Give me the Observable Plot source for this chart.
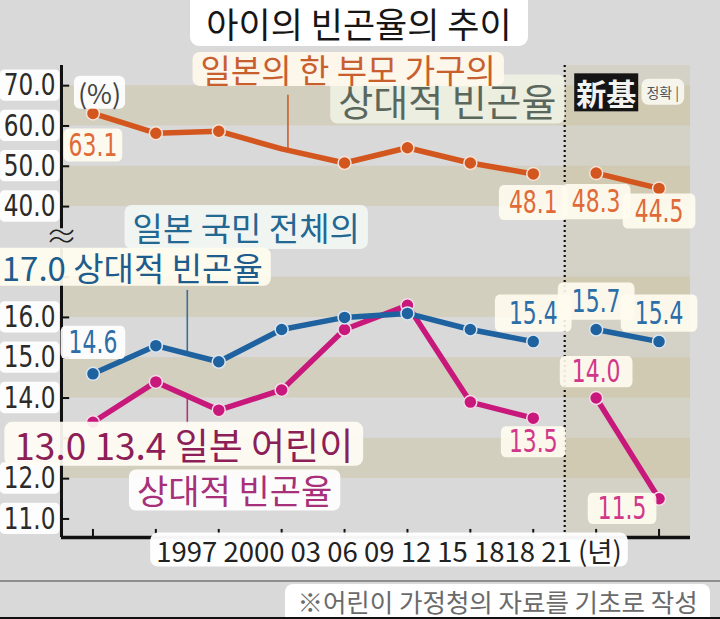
<!DOCTYPE html>
<html>
<head>
<meta charset="utf-8">
<script src="https://cdn.jsdelivr.net/npm/d3@7"></script>
<script src="https://cdn.jsdelivr.net/npm/@observablehq/plot@0.6"></script>
<style>
  html, body { margin: 0; padding: 0; background: #d9d9d9; }
  #wrap { position: relative; width: 720px; height: 619px; overflow: hidden; background: #d9d9d9;
          font-family: "Noto Sans CJK KR", "Noto Sans", sans-serif; }
  #wrap svg { position: absolute; left: 0; top: 0; }
  .title { position: absolute; left: 190px; top: 0; width: 338px; height: 46px;
           background: #fff; border-radius: 0 0 9px 9px; text-align: center; }
  .title span { display: inline-block; margin-top: 4px; font-size: 35px; line-height: 38px; color: #161616; white-space: nowrap; }
  .sep { position: absolute; left: 0; top: 580px; width: 720px; height: 2px; background: #8e8e8e; }
  .bottomline { position: absolute; left: 0; top: 617px; width: 720px; height: 2px; background: #111; }
  .foot { position: absolute; left: 285px; top: 584px; width: 425px; height: 33px; background: #fff;
          border-radius: 8px 8px 0 0; font-size: 25.5px; line-height: 33px; color: #6a6a6a; text-align: center;
          white-space: nowrap; }
</style>
</head>
<body>
<div id="wrap">
  <div class="title"><span id="title"></span></div>
  <div class="sep"></div>
  <div class="foot" id="foot"></div>
  <div class="bottomline"></div>
</div>
<script>
// ---------- data ----------
const titleText = "아이의 빈곤율의 추이";
const footText = "※어린이 가정청의 자료를 기초로 작성";
const years = ["1997", "2000", "03", "06", "09", "12", "15", "18", "18", "21"];
const period = ["old", "old", "old", "old", "old", "old", "old", "old", "new", "new"];
const singleParent = [63.1, 58.2, 58.7, 54.3, 50.8, 54.6, 50.8, 48.1, 48.3, 44.5];
const national = [14.6, 15.3, 14.9, 15.7, 16.0, 16.1, 15.7, 15.4, 15.7, 15.4];
const child = [13.4, 14.4, 13.7, 14.2, 15.7, 16.3, 13.9, 13.5, 14.0, 11.5];
const upperTicks = [70, 60, 50, 40];
const lowerTicks = [17, 16, 15, 14, 13, 12, 11];
const upperBands = [[60, 70], [40, 50]];
const lowerBands = [[16, 17], [14, 15], [12, 13]];
const yearUnit = "(년)";
const percentUnit = "(%)";
const spLabel = "일본의 한 부모 가구의";
const relLabel = "상대적 빈곤율";
const natLabel = "일본 국민 전체의";
const childLabel = "일본 어린이";
const newStdLabel = "新基";
const noteLabel = "정확 |";

document.getElementById("title").textContent = titleText;
document.getElementById("foot").textContent = footText;

// ---------- scale helpers ----------
const toDisp = v => v / 10 + 14.75;        // upper (broken) part of the axis
const xMin = -0.5, xMax = 9.5, yMin = 10.54, yMax = 22.25;
const fmt = d => d.toFixed(1);

const rows = years.map((y, i) => ({
  i, year: y, period: period[i],
  sp: singleParent[i], spD: toDisp(singleParent[i]),
  nat: national[i], ch: child[i]
}));

const bands = [
  ...upperBands.map(([a, b]) => ({y1: toDisp(a), y2: toDisp(b)})),
  ...lowerBands.map(([a, b]) => ({y1: a, y2: b}))
];
const xTicks = rows.map(d => d.i);
const xLabelLine = years.slice(0, 7).join(" ") + " " + years[7] + years[8] + " " + years[9] + " " + yearUnit;

const numFont = "'DejaVu Sans Condensed','DejaVu Sans',sans-serif";
const krFont = "'Noto Sans CJK KR','Noto Sans',sans-serif";

const C = {
  orange: "#d4561f", orangeTxt: "#e06a38", orangeAnn: "#c8602e",
  blue: "#1e62a0", blueTxt: "#2c6ea8", blueAnn: "#236793",
  pink: "#c8187b", pinkTxt: "#d2388a", pinkAnn: "#8c1f57", pinkAnn2: "#a8307a",
  gray: "#5b665d"
};
// box spec: fill | opacity | padX | padY | radius | horizontal squeeze
const box = (fill, op, px, py, rx, sx = 1) => `box|${fill}|${op}|${px}|${py}|${rx}|${sx}`;
const cream = "#fffcef";
const NUM = 32, NSX = 0.76;   // value-label font size and squeeze

const svg = Plot.plot({
  width: 720, height: 619,
  marginLeft: 61, marginRight: 30, marginTop: 65, marginBottom: 82,
  style: {background: "transparent", fontFamily: krFont, overflow: "visible"},
  x: {domain: [xMin, xMax], axis: null},
  y: {domain: [yMin, yMax], axis: null},
  marks: [
    // background bands
    Plot.rect(bands, {x1: xMin, x2: xMax, y1: "y1", y2: "y2", fill: "#d1ccb8", fillOpacity: 0.85}),
    // new-standard region tint
    Plot.rect([{x1: 7.5, x2: xMax}], {x1: "x1", x2: "x2", y1: yMin, y2: yMax, fill: "#c9bf97", fillOpacity: 0.28}),
    // dotted divider
    Plot.ruleX([7.5], {y1: yMin, y2: yMax, stroke: "#111", strokeWidth: 2.2, strokeDasharray: "2,3"}),
    // axes
    Plot.ruleX([{y1: 18.2, y2: yMax}, {y1: yMin, y2: 17.7}], {x: xMin, y1: "y1", y2: "y2", stroke: "#111", strokeWidth: 3}),
    Plot.ruleY([yMin], {x1: xMin, x2: xMax, stroke: "#111", strokeWidth: 3.5}),
    Plot.ruleY([...upperTicks.map(toDisp), ...lowerTicks], {x1: xMin, x2: xMin + 0.13, stroke: "#111", strokeWidth: 2}),
    Plot.ruleX(xTicks, {y1: yMin, y2: yMin + 0.2, stroke: "#111", strokeWidth: 2}),
    Plot.text(["≈"], {frameAnchor: "left", y: 17.98, fontSize: 32, fill: "#222", textAnchor: "middle", fontWeight: 300}),
    // leader lines
    Plot.ruleX([3.1], {y1: 20.15, y2: 21.51, stroke: C.orangeAnn, strokeWidth: 1.6}),
    Plot.ruleX([1.5], {y1: (national[1] + national[2]) / 2, y2: 16.67, stroke: "#3a6f96", strokeWidth: 1.6}),
    Plot.ruleX([1.5], {y1: 13.32, y2: (child[1] + child[2]) / 2, stroke: "#b0357a", strokeWidth: 1.6}),
    // series: single-parent households (upper part)
    Plot.line(rows, {x: "i", y: "spD", z: "period", stroke: C.orange, strokeWidth: 5.5}),
    Plot.dot(rows.filter(d => d.i !== 3), {x: "i", y: "spD", r: 6.5, fill: C.orange, stroke: "#f6e2d6", strokeWidth: 1.5}),
    // child
    Plot.line(rows, {x: "i", y: "ch", z: "period", stroke: C.pink, strokeWidth: 5.5}),
    Plot.dot(rows, {x: "i", y: "ch", r: 6.5, fill: C.pink, stroke: "#f5dbe8", strokeWidth: 1.5}),
    // national
    Plot.line(rows, {x: "i", y: "nat", z: "period", stroke: C.blue, strokeWidth: 5.5}),
    Plot.dot(rows, {x: "i", y: "nat", r: 6.5, fill: C.blue, stroke: "#dbe6f1", strokeWidth: 1.5}),

    // y tick labels
    Plot.text(upperTicks, {y: d => toDisp(d), text: fmt, frameAnchor: "left", dx: -6, textAnchor: "end",
      fontSize: 30, fontFamily: numFont, fill: "#2b2b2b", ariaDescription: box("#ffffff", 0.93, 4, -2, 5, 0.86)}),
    Plot.text(lowerTicks.filter(d => d !== 17 && d !== 13), {y: d => d, text: fmt, frameAnchor: "left", dx: -6, textAnchor: "end",
      fontSize: 30, fontFamily: numFont, fill: "#2b2b2b", ariaDescription: box("#ffffff", 0.93, 4, -2, 5, 0.86)}),
    Plot.text([percentUnit], {frameAnchor: "top-left", dx: 38, dy: 19, textAnchor: "middle", fontSize: 27, fill: "#444",
      ariaDescription: box("#ffffff", 0.9, 4, -3, 6)}),
    // x labels line
    Plot.text([xLabelLine], {frameAnchor: "bottom", dx: 13, dy: 24, fontSize: 27.5, fill: "#222",
      ariaDescription: box("#ffffff", 0.96, 6, -3, 8)}),

    // value labels: single parent
    Plot.text(rows.filter(d => d.i === 0), {x: "i", y: "spD", text: d => fmt(d.sp), dy: 32, fontSize: NUM,
      fontFamily: numFont, fill: C.orangeTxt, ariaDescription: box(cream, 0.9, 5, -2, 6, NSX)}),
    Plot.text(rows.filter(d => d.i === 7 || d.i === 8), {x: "i", y: "spD", text: d => fmt(d.sp), dy: 29, fontSize: NUM,
      fontFamily: numFont, fill: C.orangeTxt, ariaDescription: box(cream, 0.9, 10, -1, 6, NSX)}),
    Plot.text(rows.filter(d => d.i === 9), {x: "i", y: "spD", text: d => fmt(d.sp), dy: 23, fontSize: NUM,
      fontFamily: numFont, fill: C.orangeTxt, ariaDescription: box(cream, 0.9, 12, -1, 6, NSX)}),
    // value labels: national
    Plot.text(rows.filter(d => d.i === 0), {x: "i", y: "nat", text: d => fmt(d.nat), dy: -31, fontSize: NUM,
      fontFamily: numFont, fill: C.blueTxt, ariaDescription: box("#ffffff", 0.92, 8, -2, 6, NSX)}),
    Plot.text(rows.filter(d => d.i >= 7), {x: "i", y: "nat", text: d => fmt(d.nat), dy: -28, fontSize: NUM,
      fontFamily: numFont, fill: C.blueTxt, ariaDescription: box(cream, 0.9, 14, 0, 6, NSX)}),
    // value labels: child
    Plot.text(rows.filter(d => d.i === 7), {x: "i", y: "ch", text: d => fmt(d.ch), dy: 24, fontSize: NUM,
      fontFamily: numFont, fill: C.pinkTxt, ariaDescription: box(cream, 0.9, 8, -3, 6, NSX)}),
    Plot.text(rows.filter(d => d.i === 8), {x: "i", y: "ch", text: d => fmt(d.ch), dy: -26, fontSize: NUM,
      fontFamily: numFont, fill: C.pinkTxt, ariaDescription: box(cream, 0.9, 12, -3, 6, NSX)}),
    Plot.text(rows.filter(d => d.i === 9), {x: "i", y: "ch", text: d => fmt(d.ch), dx: -37, dy: 10, fontSize: NUM,
      fontFamily: numFont, fill: C.pinkTxt, ariaDescription: box(cream, 0.9, 10, -3, 6, NSX)}),

    // annotations
    Plot.text([relLabel], {x: 3.9, y: 21.31, textAnchor: "start", fontSize: 38, fill: C.gray,
      ariaDescription: box("#eef1e2", 0.92, 8, -3, 7)}),
    Plot.text([spLabel], {x: 1.71, y: 22.08, textAnchor: "start", fontSize: 33, fill: C.orangeAnn,
      ariaDescription: box("#fff8ec", 0.9, 8, -7, 7)}),
    Plot.text([natLabel], {x: 0.63, y: 18.16, textAnchor: "start", fontSize: 33, fill: C.blueAnn,
      ariaDescription: box("#f3f7f4", 0.9, 8, -2, 7)}),
    Plot.text([`${fmt(lowerTicks[0])} ${relLabel}`], {x: -1.45, y: 17.17, textAnchor: "start", fontSize: 33, fill: "#1d5c8c",
      ariaDescription: box("#fffcef", 0.93, 8, -5, 7)}),
    Plot.text([`${fmt(lowerTicks[4])} ${fmt(child[0])} ${childLabel}`], {x: -1.25, y: 12.76, textAnchor: "start", fontSize: 37, fill: C.pinkAnn,
      ariaDescription: box("#fffcf4", 0.93, 10, -5, 8)}),
    Plot.text([relLabel], {x: 0.7, y: 11.63, textAnchor: "start", fontSize: 34, fill: C.pinkAnn2,
      ariaDescription: box("#ffffff", 0.92, 8, -4, 7)}),
    Plot.text([newStdLabel], {x: 8.16, y: 21.5, fontSize: 30, fontWeight: "bold", fill: "#f2f2f2",
      fontFamily: "'Noto Sans CJK JP','Noto Sans CJK SC',sans-serif",
      ariaDescription: box("#151515", 1, 2, -3, 0)}),
    Plot.text([noteLabel], {x: 8.8, y: 21.56, textAnchor: "start", fontSize: 14, fill: "#555",
      ariaDescription: box("#f7f7ef", 0.95, 5, 3, 7)})
  ]
});

document.getElementById("wrap").prepend(svg);

// squeeze condensed number labels and draw rounded boxes behind boxed texts
svg.querySelectorAll("g[aria-description^='box']").forEach(g => {
  const [, fill, op, px, py, rx, sxs] = g.getAttribute("aria-description").split("|");
  const sx = +sxs;
  g.querySelectorAll("text").forEach(t => {
    if (sx !== 1) {
      const base = t.getAttribute("transform");
      if (base) {
        t.setAttribute("transform", `${base} scale(${sx},1)`);
      } else {
        const x = parseFloat(t.getAttribute("x")) || 0;
        t.setAttribute("x", 0);
        t.setAttribute("transform", `translate(${x},0) scale(${sx},1)`);
      }
    }
    const b = t.getBBox();
    const padX = +px / sx;
    const r = document.createElementNS("http://www.w3.org/2000/svg", "rect");
    r.setAttribute("x", b.x - padX);
    r.setAttribute("y", b.y - +py);
    r.setAttribute("width", b.width + 2 * padX);
    r.setAttribute("height", b.height + 2 * +py);
    r.setAttribute("rx", rx);
    r.setAttribute("fill", fill);
    r.setAttribute("fill-opacity", op);
    r.setAttribute("stroke", "none");
    const tr = t.getAttribute("transform");
    if (tr) r.setAttribute("transform", tr);
    t.parentNode.insertBefore(r, t);
  });
});
</script>
</body>
</html>
